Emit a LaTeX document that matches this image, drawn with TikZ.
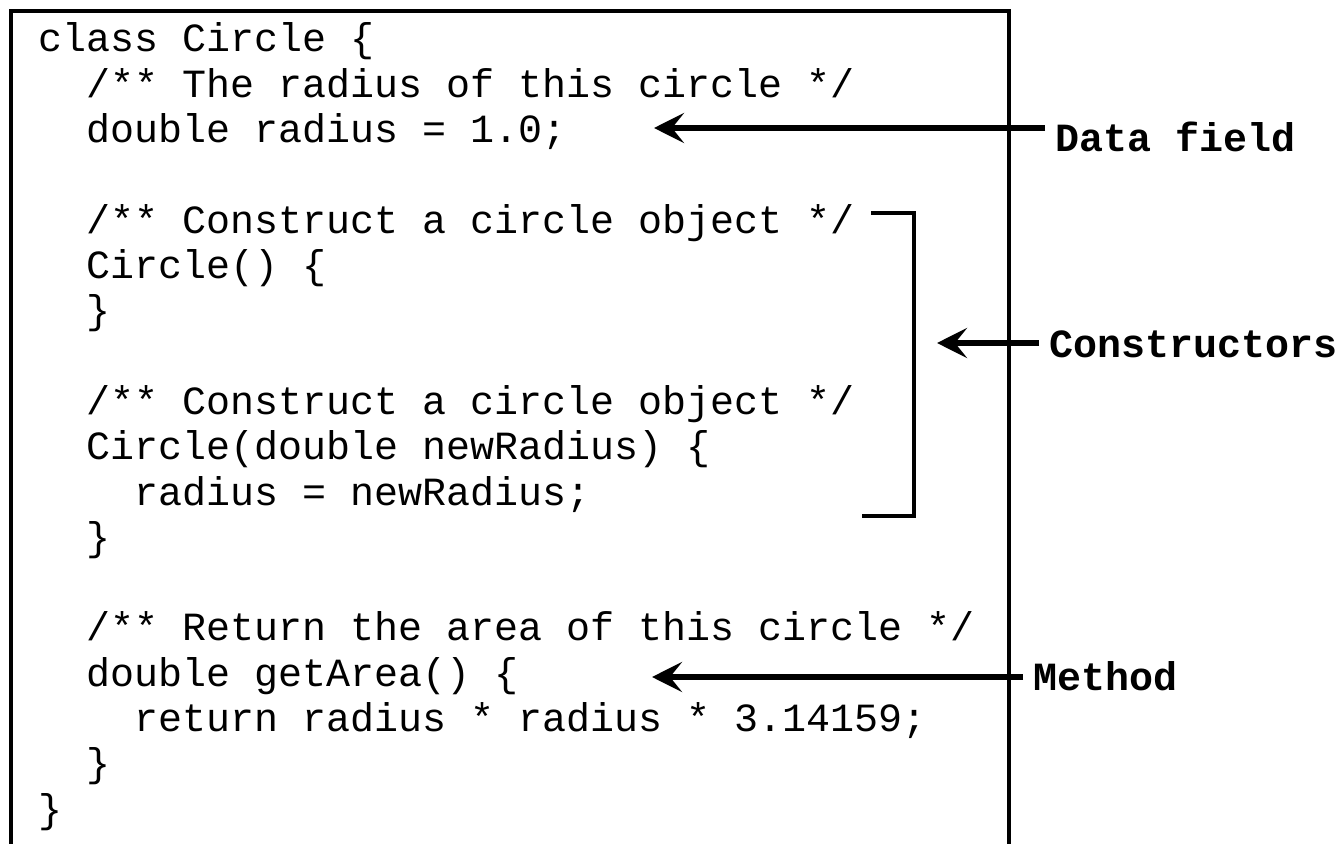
\documentclass[tikz,border=0pt]{standalone}
\usepackage{fontspec}
\setmonofont{Liberation Mono}
\usetikzlibrary{arrows.meta}

\begin{document}
\begin{tikzpicture}[x=0.5pt,y=-0.5pt,
  code/.style={anchor=base west,inner sep=0pt,font=\ttfamily\fontsize{20}{24}\selectfont},
  lbl/.style={anchor=base west,inner xsep=5pt,inner ysep=0pt,font=\ttfamily\bfseries\fontsize{20}{24}\selectfont},
  pointer/.style={-{Stealth[length=15pt,width=15pt,inset=6pt]},line width=2.8pt},
  frame/.style={line width=1.6pt},
  bracket/.style={line width=2pt}]
\useasboundingbox (0,0) rectangle (1336,844);
% open box round the class
\draw[frame] (11,844) -- (11,11) -- (1009,11) -- (1009,844);
% code lines
\node[code] (l1) at (38,52) {class Circle \{};
\node[code] (l2) at (86,97.3) {/** The radius of this circle */};
\node[code] (l3) at (86,142.6) {double radius = 1.0;};
\node[code] (l5) at (86,233.2) {/** Construct a circle object */};
\node[code] (l6) at (86,278.5) {Circle() \{};
\node[code] (l7) at (86,323.8) {\}};
\node[code] (l9) at (86,414.4) {/** Construct a circle object */};
\node[code] (l10) at (86,459.7) {Circle(double newRadius) \{};
\node[code] (l11) at (134,505) {radius = newRadius;};
\node[code] (l12) at (86,550.3) {\}};
\node[code] (l14) at (86,640.9) {/** Return the area of this circle */};
\node[code] (l15) at (86,686.2) {double getArea() \{};
\node[code] (l16) at (134,731.5) {return radius * radius * 3.14159;};
\node[code] (l17) at (86,776.8) {\}};
\node[code] (l18) at (38,822.1) {\}};
% bracket round the constructors
\draw[bracket] (871,213) -- (914,213) -- (914,516) -- (862,516);
% labels
\node[lbl] (datafield) at (1045,152) {Data field};
\node[lbl] (constructors) at (1039,357) {Constructors};
\node[lbl] (method) at (1023,690) {Method};
\coordinate (dfTip) at (654,128);
\coordinate (ctTip) at (937,343);
\coordinate (mtTip) at (652,677);
\draw[pointer] (datafield.west |- dfTip) -- (dfTip);
\draw[pointer] (constructors.west |- ctTip) -- (ctTip);
\draw[pointer] (method.west |- mtTip) -- (mtTip);
\end{tikzpicture}
\end{document}
